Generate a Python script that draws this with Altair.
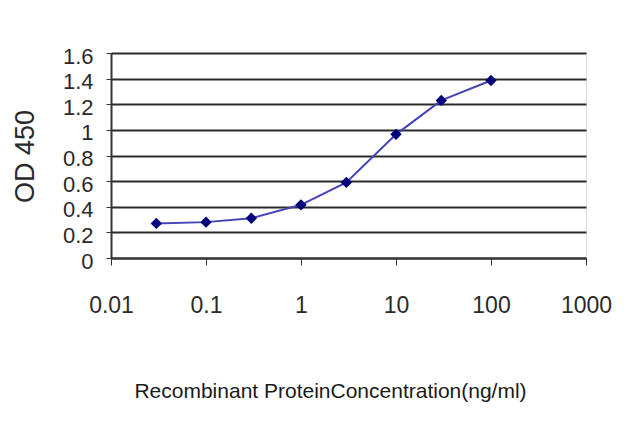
import altair as alt
import pandas as pd

# Concentração (ng/ml) e leitura OD 450
conc = [0.03, 0.1, 0.3, 1, 3, 10, 30, 100]
od = [0.27, 0.28, 0.31, 0.415, 0.59, 0.965, 1.23, 1.385]

x_ticks = [0.01, 0.1, 1, 10, 100, 1000]
y_ticks = [0, 0.2, 0.4, 0.6, 0.8, 1, 1.2, 1.4, 1.6]

df = pd.DataFrame({"conc": conc, "od": od})

font = "Liberation Sans"

base = alt.Chart(df).encode(
    x=alt.X("conc:Q",
            scale=alt.Scale(type="log", domain=[0.01, 1000], nice=False),
            axis=alt.Axis(values=x_ticks, format="~g", grid=False,
                          title="Recombinant ProteinConcentration(ng/ml)",
                          titleFont=font, titleFontSize=21, titleFontWeight="normal",
                          titleColor="#1a1a1a", titleX=219, titleY=133,
                          titleBaseline="middle", titleAlign="center",
                          labelFont=font, labelFontSize=23, labelColor="#2a2a2a",
                          labelBaseline="middle", labelPadding=40,
                          tickSize=7, tickColor="#333", domainColor="#333",
                          domainWidth=2, labelFlush=False)),
    y=alt.Y("od:Q",
            scale=alt.Scale(domain=[0, 1.6], nice=False),
            axis=alt.Axis(values=y_ticks, format="~g", grid=True,
                          gridColor="#2a2a2a", gridWidth=2,
                          title="OD 450", titleFont=font, titleFontSize=27,
                          titleFontWeight="normal", titleColor="#2a2a2a",
                          titleX=-86, titleY=103, titleAngle=270,
                          titleBaseline="middle", titleAlign="center",
                          labelFont=font, labelFontSize=22, labelColor="#2a2a2a",
                          labelPadding=13, labelOffset=3,
                          tickSize=5, tickColor="#333", domainColor="#333",
                          domainWidth=2)),
)

line = base.mark_line(color="#4444b8", strokeWidth=2)
points = base.mark_point(shape="diamond", filled=True, size=130,
                         color="#00007a", opacity=1)

chart = (alt.layer(line, points)
         .properties(width=475, height=205,
                     autosize=alt.AutoSizeParams(type="none"),
                     padding={"left": 103, "top": 45, "right": 46, "bottom": 161})
         .configure_view(stroke="#999", strokeWidth=1.5)
         .configure(background="white"))

chart.save("out.html", embed_options={"renderer": "svg", "actions": False})
